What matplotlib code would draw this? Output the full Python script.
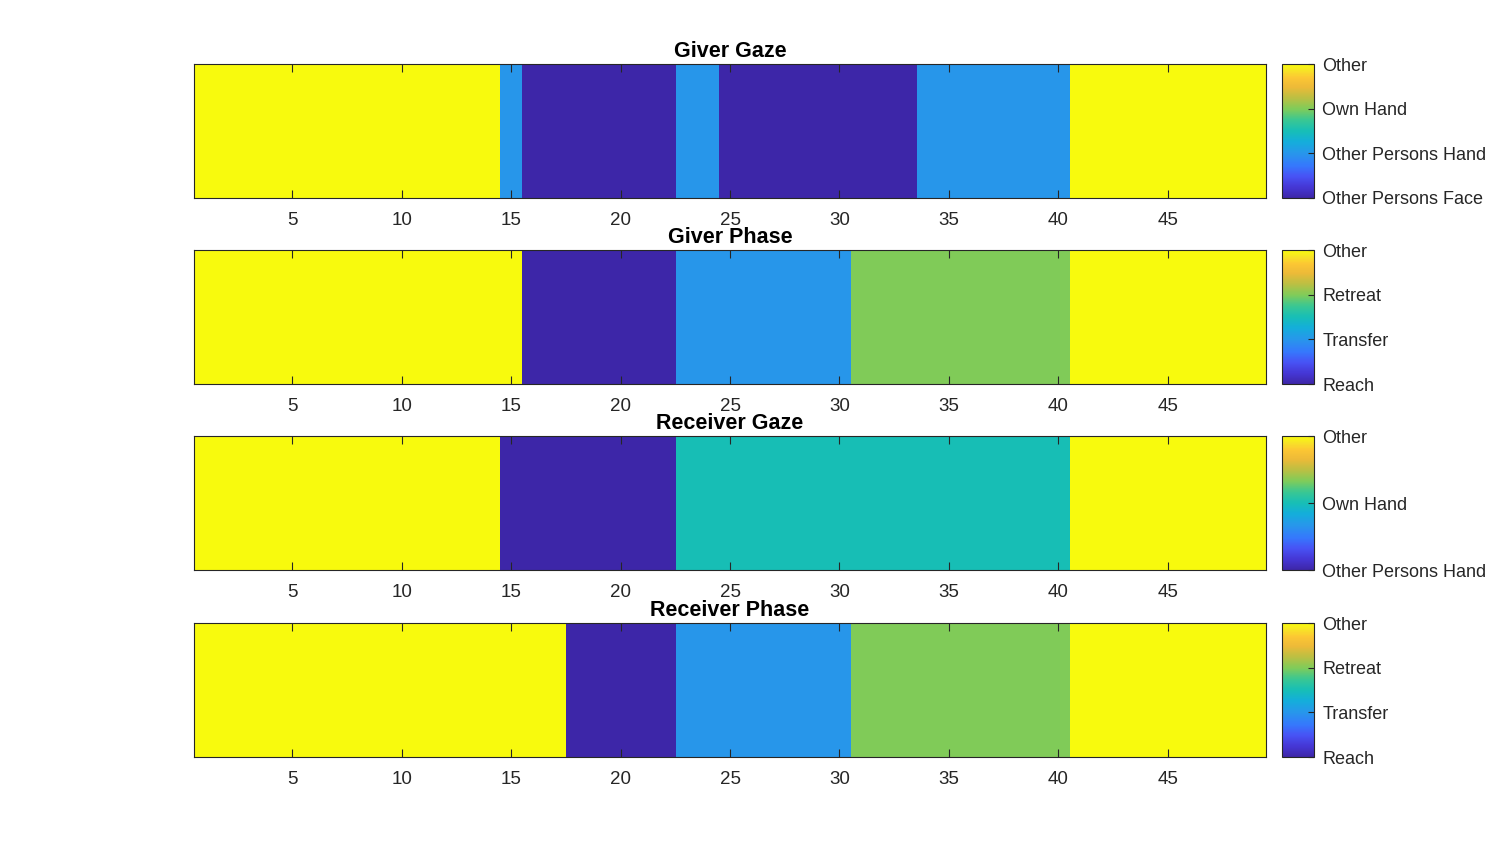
import numpy as np
import matplotlib
matplotlib.use("Agg")
import matplotlib.pyplot as plt
from matplotlib.colors import LinearSegmentedColormap, Normalize
from matplotlib.cm import ScalarMappable

plt.rcParams['font.family'] = ['Liberation Sans', 'DejaVu Sans']

# (category code, number of frames) runs, frame 1..49
giver_gaze_runs = [(4, 14), (2, 1), (1, 7), (2, 2), (1, 9), (2, 7), (4, 9)]
giver_phase_runs = [(4, 15), (1, 7), (2, 8), (3, 10), (4, 9)]
receiver_gaze_runs = [(3, 14), (1, 8), (2, 18), (3, 9)]
receiver_phase_runs = [(4, 17), (1, 5), (2, 8), (3, 10), (4, 9)]

gaze_labels_giver = ["Other Persons Face", "Other Persons Hand", "Own Hand", "Other"]
phase_labels = ["Reach", "Transfer", "Retreat", "Other"]
gaze_labels_receiver = ["Other Persons Hand", "Own Hand", "Other"]

titles = ["Giver Gaze", "Giver Phase", "Receiver Gaze", "Receiver Phase"]
x_ticks = [5, 10, 15, 20, 25, 30, 35, 40, 45]

# approximate MATLAB parula
parula_pts = [
    (0.00, (0.2422, 0.1504, 0.6603)),
    (0.08, (0.2706, 0.2147, 0.8364)),
    (0.16, (0.2810, 0.3228, 0.9579)),
    (0.24, (0.2100, 0.4700, 0.9900)),
    (0.333, (0.1540, 0.5902, 0.9218)),
    (0.42, (0.0780, 0.6820, 0.8556)),
    (0.50, (0.0904, 0.7457, 0.7158)),
    (0.58, (0.2200, 0.7800, 0.5800)),
    (0.667, (0.5044, 0.7993, 0.3480)),
    (0.75, (0.7400, 0.7500, 0.2600)),
    (0.83, (0.9300, 0.7300, 0.2200)),
    (0.90, (0.9900, 0.7800, 0.2000)),
    (0.95, (0.9700, 0.8900, 0.1500)),
    (1.00, (0.9763, 0.9831, 0.0538)),
]
parula = LinearSegmentedColormap.from_list("parula", parula_pts, N=256)


def expand(runs):
    return np.concatenate([np.full(n, v) for v, n in runs])


panels = [
    (giver_gaze_runs, gaze_labels_giver),
    (giver_phase_runs, phase_labels),
    (receiver_gaze_runs, gaze_labels_receiver),
    (receiver_phase_runs, phase_labels),
]

fig = plt.figure(figsize=(14.96, 8.5), dpi=100)
bottoms = [0.7671, 0.5482, 0.3294, 0.1094]
edge = (0.15, 0.15, 0.15)

for (runs, labels), title, b in zip(panels, titles, bottoms):
    ax = fig.add_axes([0.1297, b, 0.7166, 0.1576])
    vals = expand(runs)
    n = len(labels)
    norm = Normalize(vmin=1, vmax=n)
    ax.imshow(vals[np.newaxis, :], cmap=parula, norm=norm, aspect='auto',
              interpolation='nearest', extent=(0.5, len(vals) + 0.5, 0.5, 1.5))
    ax.set_xlim(0.5, len(vals) + 0.5)
    ax.set_xticks(x_ticks)
    ax.set_yticks([])
    ax.tick_params(axis='x', direction='in', top=True, length=6, width=0.8,
                   color=edge, labelsize=13.5, labelcolor=edge, pad=10)
    for s in ax.spines.values():
        s.set_color(edge)
        s.set_linewidth(0.8)
    ax.set_title(title, fontsize=15.5, fontweight='bold', pad=5)

    cax = fig.add_axes([0.8570, b, 0.0214, 0.1576])
    cb = fig.colorbar(ScalarMappable(norm=norm, cmap=parula), cax=cax)
    cb.set_ticks(range(1, n + 1))
    cb.set_ticklabels(labels)
    cb.outline.set_edgecolor(edge)
    cb.outline.set_linewidth(0.8)
    cax.tick_params(direction='in', length=4, width=0.8, color=edge,
                    labelsize=13, labelcolor=edge, pad=6)

fig.savefig("out.png", dpi=100)
